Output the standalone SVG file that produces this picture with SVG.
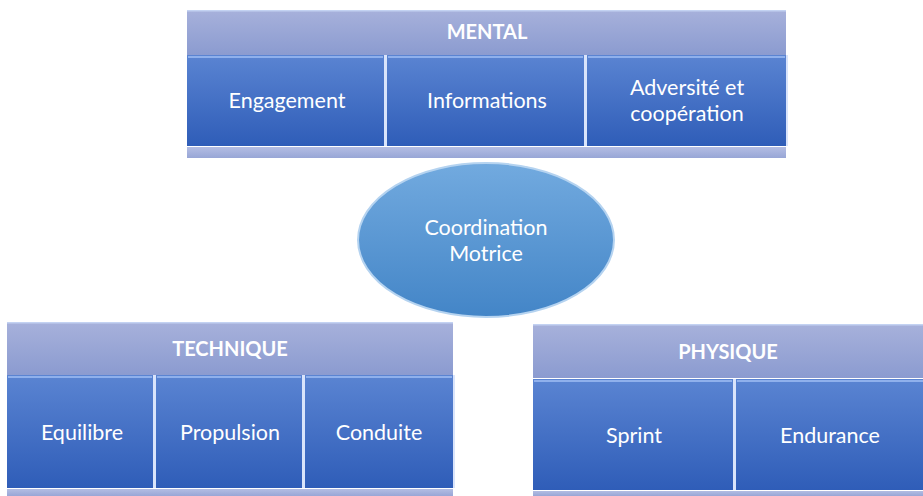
<svg xmlns="http://www.w3.org/2000/svg" width="923" height="496" viewBox="0 0 923 496">
<defs>
<linearGradient id="hdr" x1="0" y1="0" x2="0" y2="1">
<stop offset="0" stop-color="#a7b1db"/>
<stop offset="1" stop-color="#8b9bd0"/>
</linearGradient>
<linearGradient id="cell" x1="0" y1="0" x2="0" y2="1">
<stop offset="0" stop-color="#5a84d2"/>
<stop offset="1" stop-color="#2f5db8"/>
</linearGradient>
<linearGradient id="strip" x1="0" y1="0" x2="0" y2="1">
<stop offset="0" stop-color="#b3bde3"/>
<stop offset="1" stop-color="#98a6d6"/>
</linearGradient>
<linearGradient id="ell" x1="0" y1="0" x2="0" y2="1">
<stop offset="0" stop-color="#72aadf"/>
<stop offset="1" stop-color="#4385c7"/>
</linearGradient>
</defs>
<style>
.hdr{fill:url(#hdr)}
.cell{fill:url(#cell)}
.strip{fill:url(#strip)}
.edge{fill:#c3d2f2}
.hi{stroke:#8fb0ec;stroke-width:2;fill:none}
.div{fill:#d9e4fb}
.ht{font-family:Lato,"Liberation Sans",sans-serif;font-weight:bold;font-size:20px;fill:#ffffff;text-anchor:middle}
.ct{font-family:Lato,"Liberation Sans",sans-serif;font-size:21.5px;fill:#ffffff;text-anchor:middle}
</style>
<rect width="923" height="496" fill="#ffffff"/>

<g id="mental">
<rect class="hdr" x="187" y="10" width="599" height="45"/>
<rect class="edge" x="187" y="10" width="599" height="1.5"/>
<rect class="cell" x="187" y="55" width="197" height="91"/>
<rect class="cell" x="387" y="55" width="197" height="91"/>
<rect class="cell" x="587" y="55" width="199" height="91"/>
<path class="hi" d="M188,57 H383 M388,57 H583 M588,57 H785"/>
<rect class="div" x="384" y="55" width="3" height="91"/>
<rect class="div" x="584" y="55" width="3" height="91"/>
<rect class="div" x="786" y="55" width="2" height="91"/>
<rect class="strip" x="187" y="147" width="599" height="11"/>
<text class="ht" x="487" y="39">MENTAL</text>
<text class="ct" x="287" y="108">Engagement</text>
<text class="ct" x="487" y="108">Informations</text>
<text class="ct" x="687" y="95">Adversité et</text>
<text class="ct" x="687" y="121">coopération</text>
</g>

<g id="coordination">
<ellipse cx="486" cy="240" rx="128" ry="77" fill="url(#ell)" stroke="#b5d3f0" stroke-width="2"/>
<text class="ct" x="486" y="235">Coordination</text>
<text class="ct" x="486" y="261">Motrice</text>
</g>

<g id="technique">
<rect class="hdr" x="7" y="322" width="446" height="53"/>
<rect class="edge" x="7" y="322" width="446" height="1.5"/>
<rect class="cell" x="7" y="375" width="146" height="113"/>
<rect class="cell" x="156" y="375" width="146" height="113"/>
<rect class="cell" x="305" y="375" width="148" height="113"/>
<path class="hi" d="M8,377 H152 M157,377 H301 M306,377 H452"/>
<rect class="div" x="153" y="375" width="3" height="113"/>
<rect class="div" x="302" y="375" width="3" height="113"/>
<rect class="div" x="453" y="375" width="2" height="113"/>
<rect class="strip" x="7" y="489" width="446" height="7"/>
<text class="ht" x="230" y="356">TECHNIQUE</text>
<text class="ct" x="82" y="440">Equilibre</text>
<text class="ct" x="230" y="440">Propulsion</text>
<text class="ct" x="379" y="440">Conduite</text>
</g>

<g id="physique">
<rect class="hdr" x="533" y="324" width="390" height="54"/>
<rect class="edge" x="533" y="324" width="390" height="1.5"/>
<rect class="cell" x="533" y="379" width="200" height="111"/>
<rect class="cell" x="736" y="379" width="187" height="111"/>
<path class="hi" d="M534,381 H732 M737,381 H923"/>
<rect class="div" x="733" y="379" width="3" height="111"/>
<rect class="strip" x="533" y="491" width="390" height="5"/>
<text class="ht" x="728" y="359">PHYSIQUE</text>
<text class="ct" x="634" y="443">Sprint</text>
<text class="ct" x="830" y="443">Endurance</text>
</g>

<g id="connectors"></g>
</svg>
